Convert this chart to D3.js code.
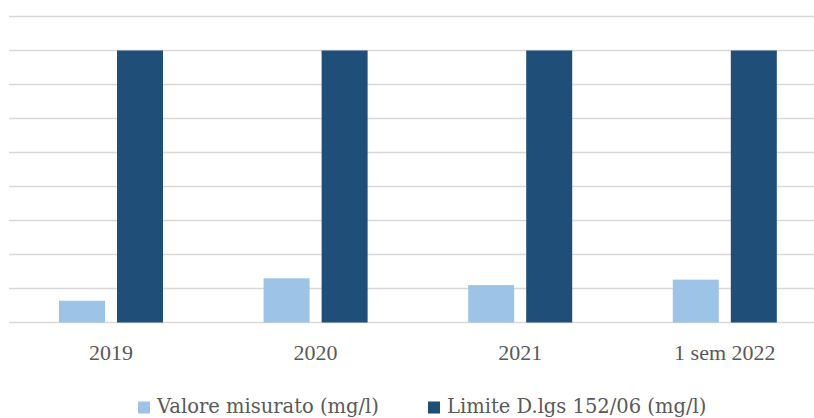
<!DOCTYPE html>
<html><head><meta charset="utf-8">
<script src="https://cdn.jsdelivr.net/npm/d3@7"></script>
<style>html,body{margin:0;padding:0;background:#fff;} svg{display:block;}</style>
</head><body>
<svg id="chart" width="814" height="418"></svg>
<script>
const categories = ["2019", "2020", "2021", "1 sem 2022"];
const seriesNames = ["Valore misurato (mg/l)", "Limite D.lgs 152/06 (mg/l)"];
const valoreMisurato = [3.2, 6.5, 5.5, 6.3];
const limite = [40, 40, 40, 40];
const yTicks = [0, 5, 10, 15, 20, 25, 30, 35, 40, 45];
const colors = ["#9DC3E6", "#1F4E79"];

const W = 814, H = 418;
const svg = d3.select("#chart");
const axisFont = "Liberation Serif";
const legendFont = "DejaVu Serif";
const textColor = "#595959";

const y = d3.scaleLinear().domain([0, 45]).range([322.5, 16.5]);
const x0 = d3.scaleBand().domain(categories).range([8.7, 827.1]).paddingInner(0).paddingOuter(0);
const x1 = d3.scaleBand().domain(seriesNames).range([0, x0.bandwidth()]).paddingInner(0.207).paddingOuter(0.867);

// gridlines
svg.append("g").selectAll("line").data(yTicks).join("line")
  .attr("x1", 9).attr("x2", W)
  .attr("y1", d => y(d)).attr("y2", d => y(d))
  .attr("stroke", "#D9D9D9").attr("stroke-width", 1.5);

const rows = categories.map((c, i) => ({cat: c, vals: [valoreMisurato[i], limite[i]]}));
const g = svg.append("g").selectAll("g").data(rows).join("g")
  .attr("transform", d => `translate(${x0(d.cat)},0)`);
g.selectAll("rect").data(d => d.vals.map((v, j) => ({s: seriesNames[j], v, j}))).join("rect")
  .attr("x", d => x1(d.s)).attr("width", x1.bandwidth())
  .attr("y", d => y(d.v)).attr("height", d => y(0) - y(d.v))
  .attr("fill", d => colors[d.j]);

// x axis labels
const xAxis = d3.axisBottom(x0).tickSize(0).tickPadding(0);
const ax = svg.append("g").attr("transform", "translate(0,360)").call(xAxis)
  .attr("font-family", axisFont).attr("font-size", 22);
ax.select(".domain").remove();
ax.selectAll("text").attr("dy", 0).attr("fill", textColor);

// legend
const legendX = [138, 428];
const lg = svg.append("g").selectAll("g").data(seriesNames).join("g")
  .attr("transform", (d, i) => `translate(${legendX[i]},0)`);
lg.append("rect").attr("x", 0).attr("y", 401.5).attr("width", 12).attr("height", 12)
  .attr("fill", (d, i) => colors[i]);
lg.append("text").attr("x", 19).attr("y", 413).text(d => d)
  .attr("fill", textColor).attr("font-family", legendFont).attr("font-size", 19.5);
</script>
</body></html>
